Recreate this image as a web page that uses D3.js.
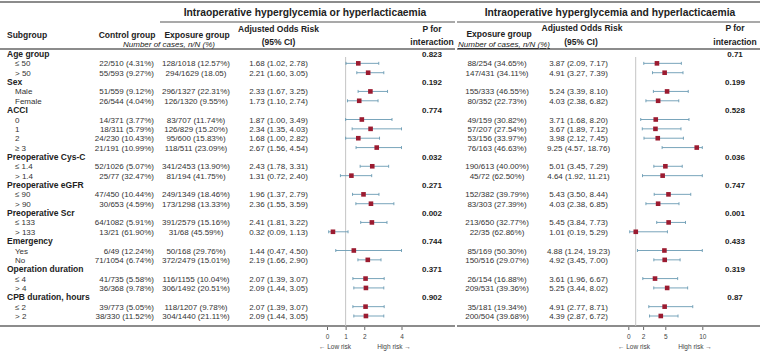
<!DOCTYPE html>
<html>
<head>
<meta charset="utf-8">
<script src="https://cdn.jsdelivr.net/npm/d3@7"></script>
<style>
  body { margin: 0; background: #fff; }
  svg text { font-family: "Liberation Sans", Arial, sans-serif; fill: #222; }
</style>
</head>
<body>
<svg id="chart"></svg>
<script>
"use strict";

// subgroup data
const groups = ["Age group", "Sex", "ACCI", "Preoperative Cys-C", "Preoperative eGFR",
  "Preoperative Scr", "Emergency", "Operation duration", "CPB duration, hours"];
const levels = [["≤ 50", "> 50"], ["Male", "Female"], ["0", "1", "2", "≥ 3"], ["≤ 1.4", "> 1.4"],
  ["≤ 90", "> 90"], ["≤ 133", "> 133"], ["Yes", "No"], ["≤ 4", "> 4"], ["≤ 2", "> 2"]];

const control = ["22/510 (4.31%)", "55/593 (9.27%)", "51/559 (9.12%)", "26/544 (4.04%)",
  "14/371 (3.77%)", "18/311 (5.79%)", "24/230 (10.43%)", "21/191 (10.99%)",
  "52/1026 (5.07%)", "25/77 (32.47%)", "47/450 (10.44%)", "30/653 (4.59%)",
  "64/1082 (5.91%)", "13/21 (61.90%)", "6/49 (12.24%)", "71/1054 (6.74%)",
  "41/735 (5.58%)", "36/368 (9.78%)", "39/773 (5.05%)", "38/330 (11.52%)"];

// hyperglycemia OR hyperlacticaemia
const exposure1 = ["128/1018 (12.57%)", "294/1629 (18.05)", "296/1327 (22.31%)", "126/1320 (9.55%)",
  "83/707 (11.74%)", "126/829 (15.20%)", "95/600 (15.83%)", "118/511 (23.09%)",
  "341/2453 (13.90%)", "81/194 (41.75%)", "249/1349 (18.46%)", "173/1298 (13.33%)",
  "391/2579 (15.16%)", "31/68 (45.59%)", "50/168 (29.76%)", "372/2479 (15.01%)",
  "116/1155 (10.04%)", "306/1492 (20.51%)", "118/1207 (9.78%)", "304/1440 (21.11%)"];
const or1 = [1.68, 2.21, 2.33, 1.73, 1.87, 2.34, 1.68, 2.67, 2.43, 1.31, 1.96, 2.36, 2.41, 0.32, 1.44, 2.19, 2.07, 2.09, 2.07, 2.09];
const lo1 = [1.02, 1.60, 1.67, 1.10, 1.00, 1.35, 1.00, 1.56, 1.78, 0.72, 1.37, 1.55, 1.81, 0.09, 0.47, 1.66, 1.39, 1.44, 1.39, 1.44];
const hi1 = [2.78, 3.05, 3.25, 2.74, 3.49, 4.03, 2.82, 4.54, 3.31, 2.40, 2.79, 3.59, 3.22, 1.13, 4.50, 2.90, 3.07, 3.05, 3.07, 3.05];
const pInt1 = ["0.823", "0.192", "0.774", "0.032", "0.271", "0.002", "0.744", "0.371", "0.902"];

// hyperglycemia AND hyperlacticaemia
const exposure2 = ["88/254 (34.65%)", "147/431 (34.11%)", "155/333 (46.55%)", "80/352 (22.73%)",
  "49/159 (30.82%)", "57/207 (27.54%)", "53/156 (33.97%)", "76/163 (46.63%)",
  "190/613 (40.00%)", "45/72 (62.50%)", "152/382 (39.79%)", "83/303 (27.39%)",
  "213/650 (32.77%)", "22/35 (62.86%)", "85/169 (50.30%)", "150/516 (29.07%)",
  "26/154 (16.88%)", "209/531 (39.36%)", "35/181 (19.34%)", "200/504 (39.68%)"];
const or2 = [3.87, 4.91, 5.24, 4.03, 3.71, 3.67, 3.98, 9.25, 5.01, 4.64, 5.43, 4.03, 5.45, 1.01, 4.88, 4.92, 3.61, 5.25, 4.91, 4.39];
const lo2 = [2.09, 3.27, 3.39, 2.38, 1.68, 1.89, 2.12, 4.57, 3.45, 1.92, 3.50, 2.38, 3.84, 0.19, 1.24, 3.45, 1.96, 3.44, 2.77, 2.87];
const hi2 = [7.17, 7.39, 8.10, 6.82, 8.20, 7.12, 7.45, 18.76, 7.29, 11.21, 8.44, 6.85, 7.73, 5.29, 19.23, 7.00, 6.67, 8.02, 8.71, 6.72];
const pInt2 = ["0.71", "0.199", "0.528", "0.036", "0.747", "0.001", "0.433", "0.319", "0.87"];

const ticks1 = [0, 1, 2, 4];
const ticks2 = [0, 2, 5, 10];

// layout
const width = 760, height = 352;
const lineColor = "#8c8c8c", ciColor = "#6a9bb3", pointColor = "#9b1b30";

// flatten into rows
let rows = [];
let item = 0;
groups.forEach((g, gi) => {
  rows.push({type: "group", label: g, gi});
  levels[gi].forEach(l => { rows.push({type: "item", label: l, i: item}); item++; });
});

const y = d3.scalePoint().domain(d3.range(rows.length)).range([54, 316]);
const x1 = d3.scaleLinear().domain([0, 4]).range([327, 401.5]).clamp(true);
const x2 = d3.scaleLinear().domain([0, 10]).range([628.3, 702.3]).clamp(true);

const svg = d3.select("#chart").attr("width", width).attr("height", height);

// horizontal rules
function rule(xa, xb, yy, w) {
  svg.append("line").attr("x1", xa).attr("x2", xb).attr("y1", yy).attr("y2", yy)
    .attr("stroke", lineColor).attr("stroke-width", w);
}
rule(0, width, 2, 2.2);
rule(160, 455, 22, 1.6);
rule(457, width, 22, 1.6);
rule(0, 455, 49, 2);
rule(457, width, 49, 2);
rule(0, 455, 326, 2);
rule(457, width, 326, 2);

// titles
function txt(xx, yy, s, opts = {}) {
  return svg.append("text").attr("x", xx).attr("y", yy)
    .attr("text-anchor", opts.anchor || "start")
    .attr("font-size", opts.size || 8)
    .attr("font-weight", opts.bold ? "bold" : "normal")
    .attr("font-style", opts.italic ? "italic" : "normal")
    .attr("text-decoration", opts.underline ? "underline" : null)
    .style("fill", opts.color || null)
    .text(s);
}
txt(305, 16, "Intraoperative hyperglycemia or hyperlacticaemia", {anchor: "middle", size: 10.3, bold: true});
txt(610, 16, "Intraoperative hyperglycemia and hyperlacticaemia", {anchor: "middle", size: 10.3, bold: true});

// column headers
txt(7, 38, "Subgroup", {size: 8.5, bold: true});
txt(127, 38, "Control group", {anchor: "middle", size: 8.5, bold: true});
txt(197, 38, "Exposure group", {anchor: "middle", size: 8.5, bold: true});
txt(169, 47, "Number of cases, n/N (%)", {anchor: "middle", size: 8, italic: true});
txt(278.5, 32, "Adjusted Odds Risk", {anchor: "middle", size: 8.5, bold: true});
txt(278.5, 45, "(95% CI)", {anchor: "middle", size: 8.5, bold: true});
txt(432, 32, "P for", {anchor: "middle", size: 8.5, bold: true});
txt(432, 45, "interaction", {anchor: "middle", size: 8.5, bold: true});

txt(499, 37, "Exposure group", {anchor: "middle", size: 8.5, bold: true});
txt(504, 47, "Number of cases, n/N (%)", {anchor: "middle", size: 8, italic: true, underline: true});
txt(582, 31, "Adjusted Odds Risk", {anchor: "middle", size: 8.5, bold: true});
txt(581, 45, "(95% CI)", {anchor: "middle", size: 8.5, bold: true});
txt(735, 31, "P for", {anchor: "middle", size: 8.5, bold: true});
txt(735, 45, "interaction", {anchor: "middle", size: 8.5, bold: true});

// reference lines at OR = 1
svg.append("line").attr("x1", x1(1)).attr("x2", x1(1)).attr("y1", 57).attr("y2", 326)
  .attr("stroke", "#c4c4c4").attr("stroke-width", 1);
svg.append("line").attr("x1", x2(1)).attr("x2", x2(1)).attr("y1", 57).attr("y2", 326)
  .attr("stroke", "#c4c4c4").attr("stroke-width", 1);

const fmt = d3.format(".2f");

rows.forEach((r, k) => {
  const yy = y(k);
  if (r.type === "group") {
    txt(7, yy + 3.2, r.label, {size: 8.5, bold: true});
    txt(432, yy + 3, pInt1[r.gi], {anchor: "middle", size: 8, bold: true});
    txt(735, yy + 3, pInt2[r.gi], {anchor: "middle", size: 8, bold: true});
    return;
  }
  const i = r.i;
  txt(15, yy + 3, r.label, {size: 8, color: "#333"});
  txt(154, yy + 3, control[i], {anchor: "end", size: 8, color: "#333"});
  txt(196, yy + 3, exposure1[i], {anchor: "middle", size: 8, color: "#333"});
  txt(278.5, yy + 3, `${fmt(or1[i])} (${fmt(lo1[i])}, ${fmt(hi1[i])})`, {anchor: "middle", size: 8, color: "#333"});
  txt(497, yy + 3, exposure2[i], {anchor: "middle", size: 8, color: "#333"});
  txt(578.5, yy + 3, `${fmt(or2[i])} (${fmt(lo2[i])}, ${fmt(hi2[i])})`, {anchor: "middle", size: 8, color: "#333"});

  [[x1, or1, lo1, hi1], [x2, or2, lo2, hi2]].forEach(([sx, est, lo, hi]) => {
    const g = svg.append("g");
    g.append("line").attr("x1", sx(lo[i])).attr("x2", sx(hi[i])).attr("y1", yy).attr("y2", yy)
      .attr("stroke", ciColor).attr("stroke-width", 0.9);
    [lo[i], hi[i]].forEach(v => {
      g.append("line").attr("x1", sx(v)).attr("x2", sx(v)).attr("y1", yy - 1.5).attr("y2", yy + 1.5)
        .attr("stroke", ciColor).attr("stroke-width", 0.9);
    });
    g.append("rect").attr("x", sx(est[i]) - 2.3).attr("y", yy - 2.3)
      .attr("width", 4.6).attr("height", 4.6).attr("fill", pointColor);
  });
});

// axes
function drawAxis(sx, tickVals, lowX, highX) {
  const ax = svg.append("g").attr("transform", "translate(0,327)")
    .call(d3.axisBottom(sx).tickValues(tickVals).tickSize(3).tickFormat(d3.format("d")));
  ax.select(".domain").remove();
  ax.selectAll(".tick line").attr("stroke", "#666");
  ax.selectAll(".tick text").attr("font-size", 6.5).style("fill", "#444")
    .attr("font-family", "Liberation Sans, Arial, sans-serif").attr("dy", "0.9em");
  txt(lowX, 349, "← Low risk", {anchor: "middle", size: 6.5, color: "#444"});
  txt(highX, 349, "High risk →", {anchor: "middle", size: 6.5, color: "#444"});
}
drawAxis(x1, ticks1, 335, 394);
drawAxis(x2, ticks2, 634, 695);
</script>
</body>
</html>
